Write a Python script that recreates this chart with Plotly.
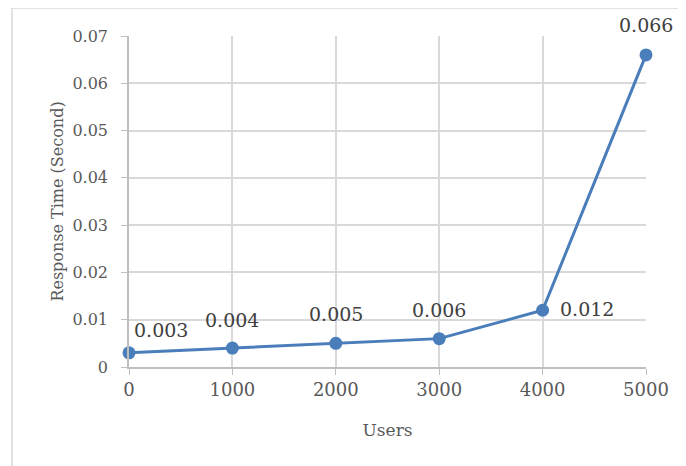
import plotly.graph_objects as go

users = [0, 1000, 2000, 3000, 4000, 5000]
response_time = [0.003, 0.004, 0.005, 0.006, 0.012, 0.066]
labels = ["0.003", "0.004", "0.005", "0.006", "0.012", "0.066"]

# label placement style: (xanchor, xshift, yshift)
label_style = [("left", 3, 23), ("center", 0, 28), ("center", 0, 29),
               ("center", 0, 29), ("left", 15, 1), ("center", 0, 30)]

FONT = "DejaVu Serif"

fig = go.Figure()
fig.add_trace(go.Scatter(
    x=users, y=response_time, mode="lines+markers",
    line=dict(color="#4A7EBB", width=3),
    marker=dict(color="#4A7EBB", size=13),
    cliponaxis=False, showlegend=False,
))

for xv, yv, txt, (xa, xs, ys) in zip(users, response_time, labels, label_style):
    fig.add_annotation(
        x=xv, y=yv, text=txt, showarrow=False,
        xanchor=xa, yanchor="middle", xshift=xs, yshift=ys,
        font=dict(family=FONT, size=19, color="#404040"),
    )

fig.update_layout(
    width=678, height=458,
    margin=dict(l=121, r=40, t=28, b=99),
    paper_bgcolor="white", plot_bgcolor="white",
    font=dict(family=FONT, color="#595959"),
    xaxis=dict(
        range=[0, 5000], tickvals=users, ticktext=[str(u) for u in users],
        showgrid=True, gridcolor="#d9d9d9", gridwidth=1.5,
        showline=True, linecolor="#bfbfbf", linewidth=1.5,
        ticks="outside", ticklen=6, tickcolor="#bfbfbf",
        tickfont=dict(size=18, color="#595959"),
        title=dict(text="Users", font=dict(size=17, color="#595959"), standoff=25),
        zeroline=False,
    ),
    yaxis=dict(
        range=[0, 0.07], tickvals=[0, 0.01, 0.02, 0.03, 0.04, 0.05, 0.06, 0.07],
        ticktext=["0", "0.01", "0.02", "0.03", "0.04", "0.05", "0.06", "0.07"],
        showgrid=True, gridcolor="#d9d9d9", gridwidth=1.5,
        showline=True, linecolor="#bfbfbf", linewidth=1.5,
        ticks="outside", ticklen=6, tickcolor="#bfbfbf", ticklabelstandoff=10,
        tickfont=dict(size=16, color="#595959"),
        title=dict(text="Response Time (Second)", font=dict(size=16, color="#595959"), standoff=5),
        zeroline=False,
    ),
    shapes=[
        dict(type="line", xref="paper", yref="paper", x0=-0.2263, x1=-0.2263, y0=-0.31, y1=1.0846,
             line=dict(color="#d9d9d9", width=1.5)),
        dict(type="line", xref="paper", yref="paper", x0=-0.2263, x1=1.08, y0=1.0846, y1=1.0846,
             line=dict(color="#d9d9d9", width=1.5)),
    ],
)

fig.write_html("out.html")
